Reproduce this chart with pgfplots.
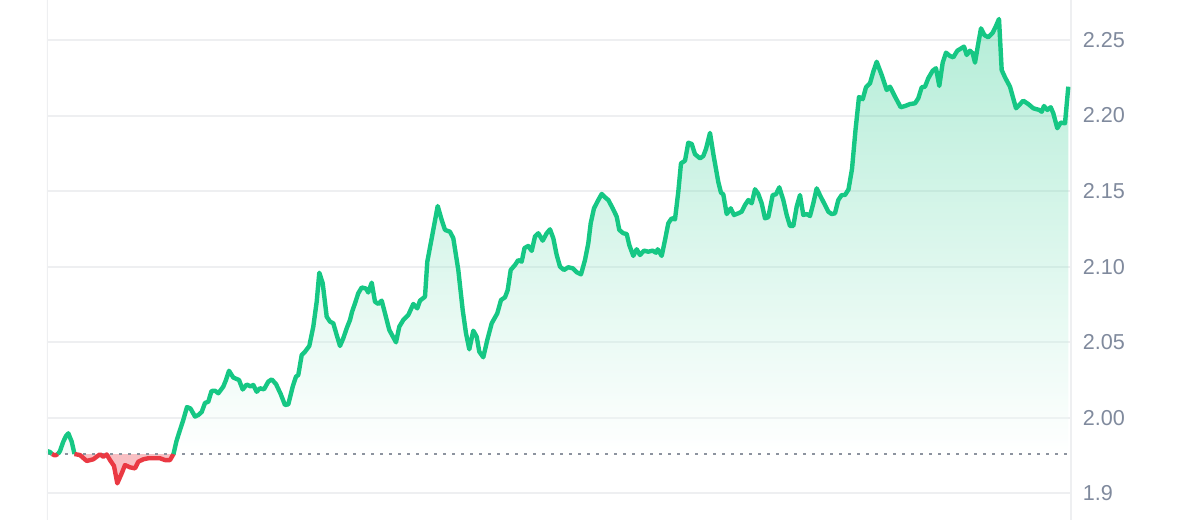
\documentclass[border=0pt]{standalone}
\usepackage{pgfplots}
\pgfplotsset{compat=1.18}
\usepackage{pgfplotstable}
\usepackage{fontspec}
\setmainfont{Liberation Sans}
\definecolor{cmcgreen}{HTML}{16C784}
\definecolor{cmcred}{HTML}{EA3943}
\definecolor{gridc}{HTML}{EEEFF1}
\definecolor{labc}{HTML}{808A9D}
\definecolor{dotc}{HTML}{8C939F}

\pgfplotstableread[row sep=\\]{
x y\\ 47 1.9780\\ 50 1.9773\\ 52 1.9760\\
}\Gone
\pgfplotstableread[row sep=\\]{
x y\\ 52 1.9760\\ 55 1.9750\\ 58 1.9760\\
}\Rone
\pgfplotstableread[row sep=\\]{
x y\\ 58 1.9760\\ 60 1.9780\\ 63.3 1.9842\\ 66 1.9879\\ 68.3 1.9897\\ 71.7 1.9842\\ 74.5 1.9760\\
}\Gtwo
\pgfplotstableread[row sep=\\]{
x y\\ 74.5 1.9760\\ 80 1.9753\\ 86.7 1.9714\\ 93.3 1.9725\\ 100 1.9758\\ 103.3 1.9742\\ 106.7 1.9757\\
110 1.9720\\ 114 1.9681\\ 117.3 1.9566\\ 121.7 1.9632\\ 125 1.9687\\ 130 1.9672\\ 135 1.9665\\
138.3 1.9709\\ 143.3 1.9725\\ 148.3 1.9732\\ 153.3 1.9732\\ 160 1.9732\\ 165 1.9720\\ 170 1.9720\\ 173.5 1.9760\\
}\Rtwo
\pgfplotstableread[row sep=\\]{
x y\\
173.5 1.976\\ 176.5 1.9846\\ 180 1.9919\\ 183 1.9979\\ 187 2.0071\\ 190.5 2.0061\\ 195 2.0008\\ 198.3 2.0018\\
201.7 2.0038\\ 205 2.0098\\ 208.3 2.0106\\ 211.5 2.0177\\ 215 2.0179\\ 218.3 2.0162\\ 223.3 2.0206\\ 226 2.0250\\
229 2.0311\\ 233.3 2.0266\\ 239 2.0250\\ 242.7 2.0187\\ 246.7 2.0220\\ 250.5 2.0208\\ 253.3 2.0217\\ 256.7 2.0172\\
260 2.0195\\ 264 2.0188\\ 268.3 2.0239\\ 271.7 2.0254\\ 276 2.0223\\ 280.7 2.0157\\ 285 2.0084\\ 288.3 2.0089\\
292.7 2.0206\\ 296 2.0272\\ 298.3 2.0283\\ 301.7 2.0415\\ 305 2.0437\\ 309.3 2.0475\\ 313.3 2.0603\\ 316.7 2.0768\\
319.3 2.0960\\ 322.7 2.0890\\ 326.7 2.0669\\ 330 2.0636\\ 333.3 2.0625\\ 336.7 2.0548\\ 340 2.0475\\ 343.3 2.0526\\
346.7 2.0592\\ 350 2.0647\\ 352 2.0700\\ 355 2.0757\\ 358.3 2.0824\\ 361.7 2.0862\\ 366 2.0855\\ 368.3 2.0829\\
371.7 2.0894\\ 375 2.0768\\ 378.3 2.0753\\ 381.7 2.0775\\ 385 2.0691\\ 389.3 2.0581\\ 396 2.0499\\ 399.3 2.0603\\
403.3 2.0647\\ 408.3 2.0680\\ 413.3 2.0753\\ 417.3 2.0724\\ 420 2.0775\\ 425 2.0801\\ 427.3 2.1033\\ 432.3 2.1209\\
437.7 2.1401\\ 441.7 2.1309\\ 445 2.1243\\ 450 2.1231\\ 453.3 2.1188\\ 458.3 2.0978\\ 462.7 2.0713\\ 466 2.0559\\
469.3 2.0453\\ 473.3 2.0576\\ 476.7 2.0536\\ 479.3 2.0437\\ 483.3 2.0400\\ 487.3 2.0515\\ 491.7 2.0625\\ 497.3 2.0691\\
501 2.0779\\ 505 2.0797\\ 507.7 2.0845\\ 510.7 2.0978\\ 515 2.1011\\ 518.3 2.1044\\ 521.7 2.1033\\ 524.5 2.1123\\
528.3 2.1137\\ 531.7 2.1104\\ 535 2.1200\\ 538.3 2.1221\\ 542.7 2.1172\\ 546.7 2.1221\\ 550 2.1247\\ 553.3 2.1188\\
556.7 2.1077\\ 560 2.1000\\ 564 2.0978\\ 568.3 2.0996\\ 572.7 2.0989\\ 576.7 2.0963\\ 581 2.0949\\ 585 2.1044\\
588.3 2.1155\\ 590.7 2.1287\\ 594 2.1386\\ 598.3 2.1441\\ 601.7 2.1481\\ 605 2.1459\\ 608.3 2.1441\\ 612.7 2.1386\\
616.7 2.1331\\ 619.3 2.1243\\ 623.3 2.1221\\ 626.7 2.1216\\ 629.3 2.1143\\ 633.3 2.1071\\ 636.7 2.1115\\ 640 2.1077\\
644 2.1106\\ 648.3 2.1099\\ 652.7 2.1106\\ 656 2.1092\\ 657.7 2.1115\\ 661.7 2.1071\\ 665 2.1176\\ 668.3 2.1287\\
671.7 2.1320\\ 675 2.1313\\ 678.3 2.1496\\ 681 2.1684\\ 685 2.1701\\ 688.3 2.1820\\ 691.7 2.1812\\ 695 2.1744\\
700 2.1717\\ 703.3 2.1732\\ 706 2.1779\\ 710 2.1885\\ 713.5 2.1739\\ 718.3 2.1560\\ 721 2.1489\\ 723.3 2.1479\\
726.7 2.1348\\ 730.7 2.1386\\ 734 2.1342\\ 738.3 2.1353\\ 741.7 2.1364\\ 745 2.1408\\ 748.3 2.1441\\ 751.7 2.1419\\
755 2.1512\\ 758.3 2.1481\\ 761.7 2.1419\\ 765 2.1320\\ 768.3 2.1327\\ 772.7 2.1474\\ 776 2.1479\\ 779.3 2.1525\\
783.3 2.1441\\ 786.7 2.1342\\ 790 2.1269\\ 793.3 2.1269\\ 796.7 2.1397\\ 800 2.1474\\ 803.3 2.1342\\ 806.7 2.1348\\
810 2.1335\\ 813.3 2.1419\\ 816.7 2.1518\\ 820.7 2.1463\\ 825 2.1408\\ 828.3 2.1364\\ 831.7 2.1348\\ 835 2.1353\\
838.3 2.1441\\ 841.7 2.1474\\ 845 2.1474\\ 848.5 2.1511\\ 852 2.1646\\ 855.5 2.1904\\ 859 2.2123\\ 862.7 2.2108\\
866 2.2187\\ 870 2.2213\\ 873.3 2.2290\\ 876.7 2.2356\\ 881.7 2.2268\\ 886.7 2.2169\\ 890 2.2191\\ 895 2.2125\\
900.7 2.2055\\ 905 2.2063\\ 910 2.2076\\ 915 2.2081\\ 918.3 2.2114\\ 921.7 2.2187\\ 925 2.2191\\ 928.3 2.2247\\
932.7 2.2297\\ 936 2.2313\\ 939.3 2.2196\\ 942.7 2.2350\\ 946 2.2416\\ 950 2.2394\\ 953.3 2.2385\\ 957.3 2.2429\\
964 2.2456\\ 966.7 2.2401\\ 970 2.2429\\ 972.7 2.2412\\ 975 2.2350\\ 978.3 2.2478\\ 981 2.2577\\ 984.3 2.2533\\
988.3 2.2518\\ 992.7 2.2548\\ 996 2.2593\\ 999 2.2639\\ 1001.7 2.2301\\ 1005 2.2253\\ 1010 2.2191\\ 1016 2.2048\\
1023.3 2.2098\\ 1028.3 2.2076\\ 1033.3 2.2048\\ 1039.3 2.2037\\ 1041.7 2.2025\\ 1044 2.2063\\ 1047.3 2.2037\\ 1050.7 2.2055\\
1053.3 2.2015\\ 1057.3 2.1916\\ 1060.7 2.1953\\ 1065 2.1949\\ 1068.3 2.2191\\
}\Gthree

\begin{document}
\begin{tikzpicture}
\begin{axis}[
  at={(23.5pt,0pt)}, anchor=south west,
  scale only axis, width=512pt, height=260pt,
  xmin=47, xmax=1071, ymin=1.93233, ymax=2.27647,
  axis x line=none, axis y line*=right,
  y axis line style={draw=gridc, line width=1pt},
  xtick=\empty,
  ytick={1.95,2.00,2.05,2.10,2.15,2.20,2.25},
  yticklabels={1.9,2.00,2.05,2.10,2.15,2.20,2.25},
  ymajorgrids, grid style={draw=gridc, line width=1pt},
  major tick length=0pt,
  yticklabel style={font=\fontsize{10.8}{13}\selectfont, text=labc, anchor=west, xshift=2.4pt},
  clip=true,
]
% fills
\addplot[draw=none, fill=cmcgreen, fill opacity=0.05] table {\Gone};
\addplot[draw=none, fill=cmcred, fill opacity=0.3] table {\Rone};
\addplot[draw=none, fill=cmcgreen, fill opacity=0.05] table {\Gtwo};
\addplot[draw=none, fill=cmcred, fill opacity=0.32] table {\Rtwo};
\addplot[draw=none, top color=cmcgreen, bottom color=white, fill opacity=0.32] table {\Gthree} -- (axis cs:1068.3,1.976) -- cycle;
% baseline
\addplot[draw=dotc, line width=1.4pt, dash pattern=on 1.4pt off 3.1pt] coordinates {(47,1.976) (1068.3,1.976)};
% price line
\addplot[draw=cmcgreen, line width=2.2pt, line join=round] table {\Gone};
\addplot[draw=cmcred, line width=2.2pt, line join=round] table {\Rone};
\addplot[draw=cmcgreen, line width=2.2pt, line join=round] table {\Gtwo};
\addplot[draw=cmcred, line width=2.2pt, line join=round] table {\Rtwo};
\addplot[draw=cmcgreen, line width=2.2pt, line join=round] table {\Gthree};
\draw[gridc, line width=1pt] (rel axis cs:0,0) -- (rel axis cs:0,1);
\end{axis}
\pgfresetboundingbox
\path (0,0) rectangle (600pt,260pt);
\end{tikzpicture}
\end{document}
